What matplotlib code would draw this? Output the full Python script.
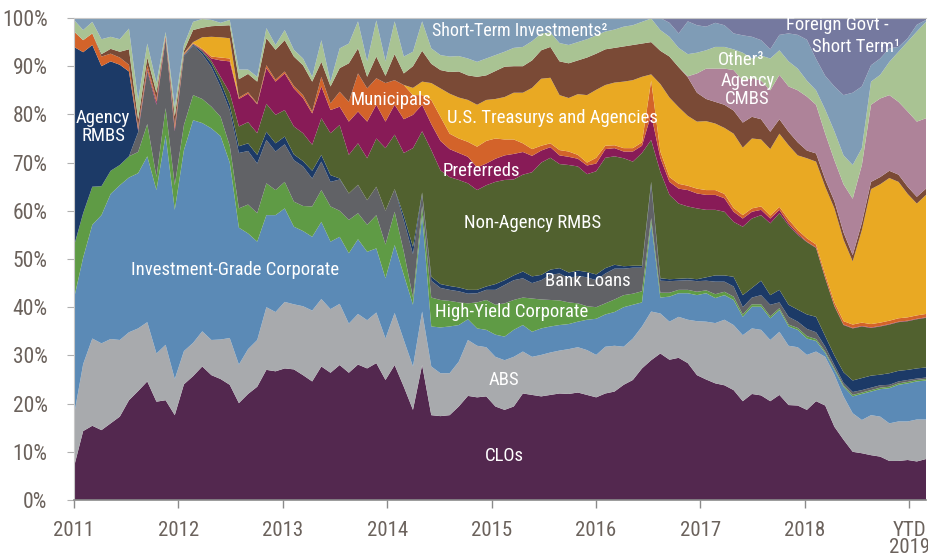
import matplotlib.pyplot as plt
import numpy as np

# ----------------------------------------------------------------------------------------------------------------------
# Upper edge of every band (cumulative % of holdings), bottom band first.
# Jan 2011 .. Feb 2019, 94 points. Foreign Govt - Short Term fills the space up to 100%.
clo_top = [6.9, 14.3, 15.4, 14.5, 15.9, 17.3, 20.7, 22.6, 24.6, 20.4,
           20.7, 17.6, 24.0, 25.7, 27.7, 25.9, 25.1, 23.9, 20.1, 22.0,
           23.5, 27.0, 26.7, 27.3, 27.1, 25.9, 24.6, 27.7, 26.4, 28.0,
           26.4, 28.1, 27.3, 28.4, 24.9, 28.0, 23.5, 18.7, 28.0, 17.6,
           17.4, 17.6, 19.4, 21.6, 21.3, 21.5, 19.4, 18.7, 19.4, 22.1,
           21.8, 21.5, 21.8, 22.1, 22.0, 22.3, 21.8, 21.3, 22.1, 22.5,
           23.9, 24.9, 27.3, 29.0, 30.4, 29.1, 29.5, 28.4, 25.9, 25.0,
           24.2, 23.8, 22.8, 20.5, 22.0, 21.7, 20.5, 21.8, 19.7, 19.6,
           18.7, 20.5, 19.6, 15.2, 12.5, 10.0, 9.7, 9.3, 9.0, 8.1,
           8.1, 8.3, 8.0, 8.5]
abs_top = [17.6, 28.2, 33.5, 32.5, 33.4, 33.2, 34.8, 35.6, 36.9, 30.4,
           32.2, 25.1, 30.9, 32.6, 35.0, 33.2, 33.3, 33.6, 28.1, 31.3,
           33.2, 40.0, 39.0, 41.1, 40.6, 40.2, 39.3, 41.7, 39.6, 40.7,
           36.6, 38.6, 37.3, 38.9, 33.5, 38.8, 33.2, 27.7, 39.1, 27.7,
           26.3, 26.3, 28.7, 33.2, 32.0, 31.7, 29.7, 29.0, 29.7, 30.8,
           29.7, 30.1, 30.6, 31.0, 31.3, 31.7, 31.1, 30.1, 31.8, 32.0,
           31.8, 33.5, 36.0, 39.1, 38.7, 37.0, 38.0, 37.4, 37.1, 37.0,
           36.7, 37.4, 36.3, 34.2, 35.6, 35.3, 33.2, 34.9, 32.0, 31.7,
           30.1, 30.8, 29.7, 26.0, 21.5, 18.0, 16.6, 17.6, 17.3, 15.9,
           16.3, 16.3, 16.7, 16.7]
ig_top = [41.8, 50.3, 57.1, 59.1, 63.5, 65.3, 66.9, 67.8, 71.3, 64.3,
          75.7, 60.2, 72.6, 78.8, 78.2, 77.1, 75.5, 70.0, 56.5, 55.3,
          53.6, 59.1, 59.1, 60.5, 56.7, 55.8, 54.6, 57.7, 53.6, 54.6,
          51.2, 54.1, 51.5, 52.2, 46.0, 52.9, 46.7, 40.5, 59.1, 36.0,
          35.8, 36.0, 36.3, 37.5, 35.6, 35.3, 34.3, 33.9, 35.3, 36.3,
          34.9, 35.6, 36.0, 36.3, 36.5, 37.0, 37.4, 37.6, 38.5, 39.0,
          40.0, 40.5, 41.0, 57.5, 42.0, 42.2, 42.9, 42.9, 42.5, 42.9,
          41.9, 42.5, 41.5, 38.0, 40.1, 40.1, 37.7, 39.4, 36.0, 35.3,
          33.5, 33.0, 30.5, 27.0, 23.5, 21.5, 22.0, 22.5, 23.0, 23.2,
          23.9, 24.2, 24.6, 24.8]
hy_top = [52.7, 59.5, 65.0, 65.1, 68.3, 69.5, 71.3, 72.2, 78.0, 67.0,
          81.3, 65.3, 77.8, 84.0, 83.2, 81.6, 79.5, 73.5, 60.5, 61.3,
          59.5, 65.7, 64.3, 66.0, 61.9, 61.0, 60.9, 64.3, 60.9, 60.0,
          58.1, 59.5, 57.1, 59.1, 53.0, 59.8, 51.5, 42.0, 61.0, 42.0,
          41.5, 41.3, 41.0, 40.8, 41.0, 41.5, 40.5, 40.8, 41.5, 42.0,
          41.8, 41.6, 41.5, 41.4, 41.0, 40.8, 40.2, 40.0, 40.8, 41.6,
          42.5, 42.8, 43.3, 58.5, 43.0, 43.0, 43.6, 43.6, 43.2, 43.5,
          42.7, 43.2, 42.2, 38.5, 40.6, 40.6, 38.1, 39.8, 36.4, 35.7,
          34.0, 33.4, 30.8, 27.3, 23.8, 21.8, 22.3, 22.8, 23.3, 23.5,
          24.2, 24.5, 24.9, 25.1]
loans_top = [52.7, 59.5, 65.0, 65.1, 68.3, 69.5, 71.3, 76.3, 89.0, 82.0,
             95.5, 76.5, 92.0, 94.3, 92.5, 89.8, 85.7, 80.9, 72.0, 72.4,
             69.8, 74.7, 72.3, 73.8, 70.5, 69.2, 66.7, 70.2, 66.0, 66.5,
             63.6, 65.4, 62.2, 65.0, 60.0, 64.5, 58.0, 51.0, 63.5, 45.5,
             44.0, 43.6, 43.3, 42.8, 42.9, 43.6, 43.6, 44.6, 45.6, 46.0,
             45.0, 45.6, 46.7, 47.0, 46.0, 46.5, 46.2, 45.6, 47.0, 48.0,
             48.0, 48.2, 48.2, 65.5, 45.5, 45.4, 45.5, 45.6, 45.4, 45.5,
             45.3, 45.3, 44.3, 40.0, 42.0, 42.5, 40.5, 41.0, 38.0, 37.0,
             35.5, 34.8, 31.8, 28.0, 24.3, 22.4, 22.8, 23.3, 23.8, 23.9,
             24.6, 24.9, 25.2, 25.4]
agency_rmbs_top = [94.0, 92.9, 94.4, 90.0, 91.0, 90.3, 88.9, 76.6, 89.0, 82.0,
                   95.5, 76.5, 92.2, 94.5, 93.0, 90.6, 86.8, 82.0, 73.4, 74.0,
                   71.6, 76.4, 74.0, 75.4, 71.7, 70.3, 68.3, 71.6, 67.4, 66.7,
                   63.6, 65.4, 62.2, 65.0, 60.0, 64.5, 59.0, 52.5, 63.8, 46.3,
                   44.8, 44.4, 44.1, 43.6, 43.6, 44.3, 44.8, 45.6, 46.6, 47.4,
                   46.4, 46.7, 47.8, 48.1, 47.2, 47.6, 47.3, 46.8, 48.1, 48.8,
                   48.5, 48.6, 48.6, 66.0, 46.0, 45.8, 45.9, 46.0, 45.8, 46.2,
                   46.6, 46.6, 46.3, 42.5, 44.0, 45.5, 42.5, 43.6, 40.5, 39.5,
                   38.5, 38.0, 34.0, 30.0, 26.5, 24.8, 25.3, 25.8, 26.0, 26.3,
                   26.8, 27.0, 27.3, 27.5]
nonagency_top = [94.0, 92.9, 94.4, 90.0, 91.0, 90.3, 88.9, 76.6, 89.0, 82.0,
                 95.5, 76.5, 92.3, 94.6, 93.2, 91.1, 87.8, 84.5, 77.5, 78.4,
                 76.1, 82.2, 79.9, 80.9, 77.5, 76.1, 73.7, 79.2, 76.1, 77.8,
                 71.6, 74.0, 70.9, 75.0, 73.0, 75.8, 72.0, 73.0, 76.5, 72.6,
                 68.4, 67.0, 66.4, 65.7, 64.3, 65.3, 66.0, 66.4, 66.5, 67.5,
                 68.0, 70.0, 71.0, 69.7, 69.5, 69.2, 67.6, 68.2, 71.0, 71.3,
                 70.9, 70.2, 72.0, 74.7, 68.1, 63.3, 61.5, 60.9, 60.5, 60.2,
                 60.2, 59.8, 57.7, 56.7, 58.4, 59.1, 57.4, 59.5, 57.0, 55.0,
                 53.5, 52.3, 46.0, 40.2, 36.3, 35.6, 36.0, 35.7, 36.0, 36.4,
                 36.9, 37.1, 37.5, 37.8]
pref_top = [94.0, 92.9, 94.4, 90.0, 91.0, 90.3, 88.9, 76.9, 89.4, 82.6,
            95.8, 77.0, 92.4, 94.7, 93.4, 91.6, 91.2, 91.0, 83.2, 84.3,
            82.1, 89.6, 86.8, 88.5, 85.4, 83.4, 80.2, 85.8, 80.9, 81.6,
            78.5, 80.6, 78.5, 82.0, 78.5, 82.0, 79.0, 79.9, 82.0, 78.0,
            74.5, 72.8, 72.0, 71.2, 69.0, 69.8, 70.8, 71.5, 71.8, 72.2,
            71.4, 72.5, 73.2, 71.5, 71.2, 70.8, 69.4, 69.8, 72.8, 73.0,
            72.3, 72.3, 73.5, 80.0, 71.0, 66.0, 64.6, 64.3, 63.6, 63.3,
            63.3, 62.6, 59.8, 58.4, 59.8, 60.2, 58.4, 60.2, 57.4, 55.3,
            53.6, 52.4, 46.1, 40.3, 36.4, 35.7, 36.1, 35.8, 36.1, 36.5,
            37.0, 37.2, 37.6, 37.9]
muni_top = [97.2, 95.4, 96.8, 92.0, 92.6, 91.8, 90.3, 77.4, 90.2, 83.2,
            96.2, 77.8, 92.6, 94.8, 93.6, 92.0, 91.8, 91.6, 83.5, 84.6,
            82.3, 90.2, 87.2, 88.9, 85.9, 84.0, 80.6, 87.8, 82.3, 84.7,
            82.6, 88.5, 85.4, 87.5, 86.5, 87.1, 86.1, 84.0, 84.0, 83.0,
            79.5, 76.0, 75.0, 74.3, 73.3, 74.5, 75.0, 74.8, 74.8, 74.0,
            72.8, 73.5, 74.0, 72.6, 72.3, 71.6, 70.0, 71.0, 73.5, 73.6,
            73.0, 73.0, 74.2, 87.0, 72.3, 67.0, 65.6, 65.2, 64.6, 64.3,
            64.3, 63.5, 60.6, 59.1, 60.5, 60.9, 59.0, 60.8, 58.2, 56.0,
            54.3, 53.0, 46.8, 41.0, 37.1, 36.4, 36.8, 36.5, 36.8, 37.2,
            37.7, 37.9, 38.3, 38.6]
treasury_top = [97.2, 95.4, 96.8, 92.0, 92.6, 91.8, 90.3, 77.4, 90.2, 83.2,
                96.2, 77.8, 92.7, 95.0, 96.0, 96.1, 96.0, 95.8, 83.5, 84.6,
                82.3, 90.2, 87.2, 88.9, 85.9, 84.0, 80.6, 87.8, 82.3, 84.7,
                82.6, 88.5, 85.4, 87.5, 86.5, 87.1, 86.1, 85.5, 86.8, 86.5,
                85.4, 84.3, 83.5, 83.0, 82.0, 83.0, 83.2, 83.6, 84.5, 84.5,
                85.5, 87.4, 87.6, 84.0, 83.4, 84.2, 84.0, 85.1, 86.1, 86.6,
                86.8, 87.1, 87.8, 88.3, 86.3, 83.5, 81.5, 79.7, 78.5, 78.6,
                78.1, 77.2, 76.0, 73.1, 75.0, 74.8, 72.8, 76.0, 73.6, 71.5,
                70.9, 70.2, 65.0, 60.5, 54.0, 49.5, 56.0, 64.5, 65.5, 66.8,
                66.0, 63.5, 61.5, 63.3]
cmbs_top = [97.2, 95.4, 96.8, 92.5, 93.6, 93.0, 93.5, 79.0, 91.8, 84.5,
            96.4, 79.6, 93.2, 97.5, 98.0, 98.3, 98.4, 98.5, 87.3, 88.4,
            86.8, 95.8, 93.4, 95.4, 92.0, 90.2, 86.8, 90.9, 85.8, 89.6,
            90.6, 93.7, 87.8, 92.0, 88.0, 92.5, 88.5, 90.0, 93.2, 90.5,
            89.2, 88.8, 88.9, 88.1, 87.8, 88.1, 89.0, 89.9, 90.0, 90.0,
            91.2, 93.3, 94.0, 91.0, 90.6, 91.2, 91.8, 92.6, 93.5, 93.8,
            94.1, 94.4, 94.7, 95.0, 93.2, 92.0, 89.8, 87.7, 84.5, 83.2,
            82.6, 82.0, 80.8, 78.3, 79.5, 79.0, 76.4, 79.0, 76.4, 74.2,
            72.5, 71.9, 66.5, 62.0, 55.5, 50.8, 57.5, 66.0, 67.0, 68.3,
            67.5, 65.0, 62.9, 64.6]
agency_cmbs_top = [97.2, 95.4, 96.8, 92.5, 93.6, 93.0, 93.5, 79.0, 91.8, 84.5,
                   96.4, 79.6, 93.2, 97.5, 98.0, 98.3, 98.4, 98.5, 87.3, 88.4,
                   86.8, 95.8, 93.4, 95.4, 92.0, 90.2, 86.8, 90.9, 85.8, 89.6,
                   90.6, 93.7, 87.8, 92.0, 88.0, 92.5, 88.5, 90.0, 93.2, 90.5,
                   89.2, 88.8, 88.9, 88.1, 87.8, 88.1, 89.0, 89.9, 90.0, 90.0,
                   91.2, 93.3, 94.0, 91.0, 90.6, 91.2, 91.8, 92.6, 93.5, 93.8,
                   94.1, 94.4, 94.7, 95.0, 93.2, 92.0, 89.8, 87.9, 88.5, 89.5,
                   89.5, 89.5, 89.2, 87.0, 87.5, 87.0, 85.0, 88.2, 85.8, 85.0,
                   83.7, 82.0, 76.0, 70.5, 65.5, 62.5, 69.5, 82.0, 83.3, 84.0,
                   82.6, 80.6, 78.5, 79.2]
other_top = [99.6, 97.5, 99.2, 95.6, 96.1, 95.6, 97.8, 83.0, 94.7, 86.5,
             97.1, 81.6, 94.4, 99.2, 99.8, 99.6, 99.0, 99.6, 89.3, 89.3,
             87.8, 97.9, 94.4, 97.5, 93.4, 91.6, 87.8, 95.4, 86.8, 93.7,
             94.7, 99.3, 91.0, 99.5, 91.0, 99.3, 92.0, 93.0, 99.3, 93.7,
             92.3, 92.0, 92.1, 91.6, 90.9, 91.6, 92.3, 93.0, 93.8, 94.0,
             95.2, 96.8, 97.0, 94.8, 94.4, 95.0, 95.6, 96.4, 97.2, 97.6,
             98.2, 98.5, 99.2, 99.9, 97.5, 96.1, 93.8, 92.5, 92.8, 93.3,
             94.0, 94.0, 93.5, 92.8, 91.6, 92.2, 91.6, 93.3, 91.0, 89.5,
             87.0, 85.0, 81.0, 76.5, 71.5, 69.5, 73.0, 86.8, 88.2, 90.9,
             93.0, 95.1, 97.2, 99.2]
short_term_top = [100, 100, 100, 100, 100, 100, 100, 100, 100, 100,
                  100, 100, 100, 100, 100, 100, 100, 100, 100, 100,
                  100, 100, 100, 100, 100, 100, 100, 100, 100, 100,
                  100, 100, 100, 100, 100, 100, 100, 100, 100, 100,
                  100, 100, 100, 100, 100, 100, 100, 100, 100, 100,
                  100, 100, 100, 100, 100, 100, 100, 100, 100, 100,
                  100, 100, 100, 100, 100, 99.0, 96.8, 99.3, 98.5, 98.2,
                  99.0, 98.5, 96.8, 96.4, 96.1, 95.4, 93.5, 96.5, 96.8, 96.5,
                  95.5, 91.5, 88.0, 85.8, 84.0, 84.5, 85.8, 90.2, 91.6, 93.7,
                  94.0, 95.8, 98.6, 99.6]

band_colors = ["#53284F",  # CLOs
               "#A8AAAD",  # ABS
               "#5B8AB6",  # Investment-Grade Corporate
               "#5F9B45",  # High-Yield Corporate
               "#616266",  # Bank Loans
               "#1C3A67",  # Agency RMBS
               "#51612F",  # Non-Agency RMBS
               "#881B57",  # Preferreds
               "#D3632A",  # Municipals
               "#E9A923",  # U.S. Treasurys and Agencies
               "#7A4A36",  # CMBS
               "#AE8399",  # Agency CMBS
               "#A9C393",  # Other
               "#7F9CB6",  # Short-Term Investments
               "#75799F"]  # Foreign Govt - Short Term

year_ticks = [2011, 2012, 2013, 2014, 2015, 2016, 2017, 2018, 2019]
year_labels = ["2011", "2012", "2013", "2014", "2015", "2016", "2017", "2018", "YTD\n2019"]

# ----------------------------------------------------------------------------------------------------------------------
plt.rcParams['font.family'] = ['Roboto Condensed', 'Liberation Sans Narrow', 'Roboto', 'DejaVu Sans']

edges = np.array([clo_top, abs_top, ig_top, hy_top, loans_top, agency_rmbs_top, nonagency_top, pref_top,
                  muni_top, treasury_top, cmbs_top, agency_cmbs_top, other_top, short_term_top], dtype=float)
n_points = edges.shape[1]
edges = np.vstack([np.zeros(n_points), edges, np.full(n_points, 100.0)])
shares = np.clip(np.diff(edges, axis=0), 0, None)
x = np.linspace(2011, 2019.16, n_points)

fig = plt.figure(figsize=(9.29, 5.6), dpi=100)
ax = fig.add_axes([74 / 929, 1 - 500 / 560, 852 / 929, 482 / 560])
ax.stackplot(x, shares, colors=band_colors, linewidth=0)

ax.set_xlim(2011, 2019.16)
ax.set_ylim(0, 100)
ax.set_yticks(np.arange(0, 101, 10))
ax.set_yticklabels(["{}%".format(v) for v in range(0, 101, 10)])
ax.set_xticks(year_ticks)
ax.set_xticklabels(year_labels, linespacing=0.85)

tick_color = "#6B625C"
ax.tick_params(axis='y', length=5, width=0.8, color="#B0B0B0", pad=14, labelsize=15.5, labelcolor=tick_color)
ax.tick_params(axis='x', length=6, width=1.0, color="#8A8A8A", pad=9, labelsize=15, labelcolor=tick_color)
for side in ['top', 'left', 'right']:
    ax.spines[side].set_color("#C8C8C8")
    ax.spines[side].set_linewidth(0.8)
ax.spines['bottom'].set_color("#8A8A8A")
ax.spines['bottom'].set_linewidth(1.2)
ax.spines['right'].set_visible(False)

# Band labels
label_kw = dict(color="white", ha="center", va="center", fontsize=13.5)
ax.text(2011.28, 77.4, "Agency\nRMBS", linespacing=1.05, **label_kw)
ax.text(2012.54, 47.7, "Investment-Grade Corporate", **label_kw)
ax.text(2014.04, 83.0, "Municipals", **label_kw)
ax.text(2015.27, 97.3, "Short-Term Investments\u00b2", color="white", ha="center", va="center", fontsize=13)
ax.text(2015.58, 79.3, "U.S. Treasurys and Agencies", **label_kw)
ax.text(2014.90, 68.3, "Preferreds", **label_kw)
ax.text(2015.39, 57.5, "Non-Agency RMBS", **label_kw)
ax.text(2015.92, 45.4, "Bank Loans", **label_kw)
ax.text(2015.19, 39.0, "High-Yield Corporate", **label_kw)
ax.text(2015.12, 24.9, "ABS", **label_kw)
ax.text(2015.12, 9.1, "CLOs", **label_kw)
ax.text(2017.39, 91.3, "Other\u00b3", **label_kw)
ax.text(2017.45, 85.0, "Agency\nCMBS", linespacing=1.0, **label_kw)
ax.text(2018.31, 98.5, "Foreign Govt -", **label_kw)
ax.text(2018.49, 94.0, "Short Term\u00b9", **label_kw)

fig.savefig("out.png", dpi=100)
